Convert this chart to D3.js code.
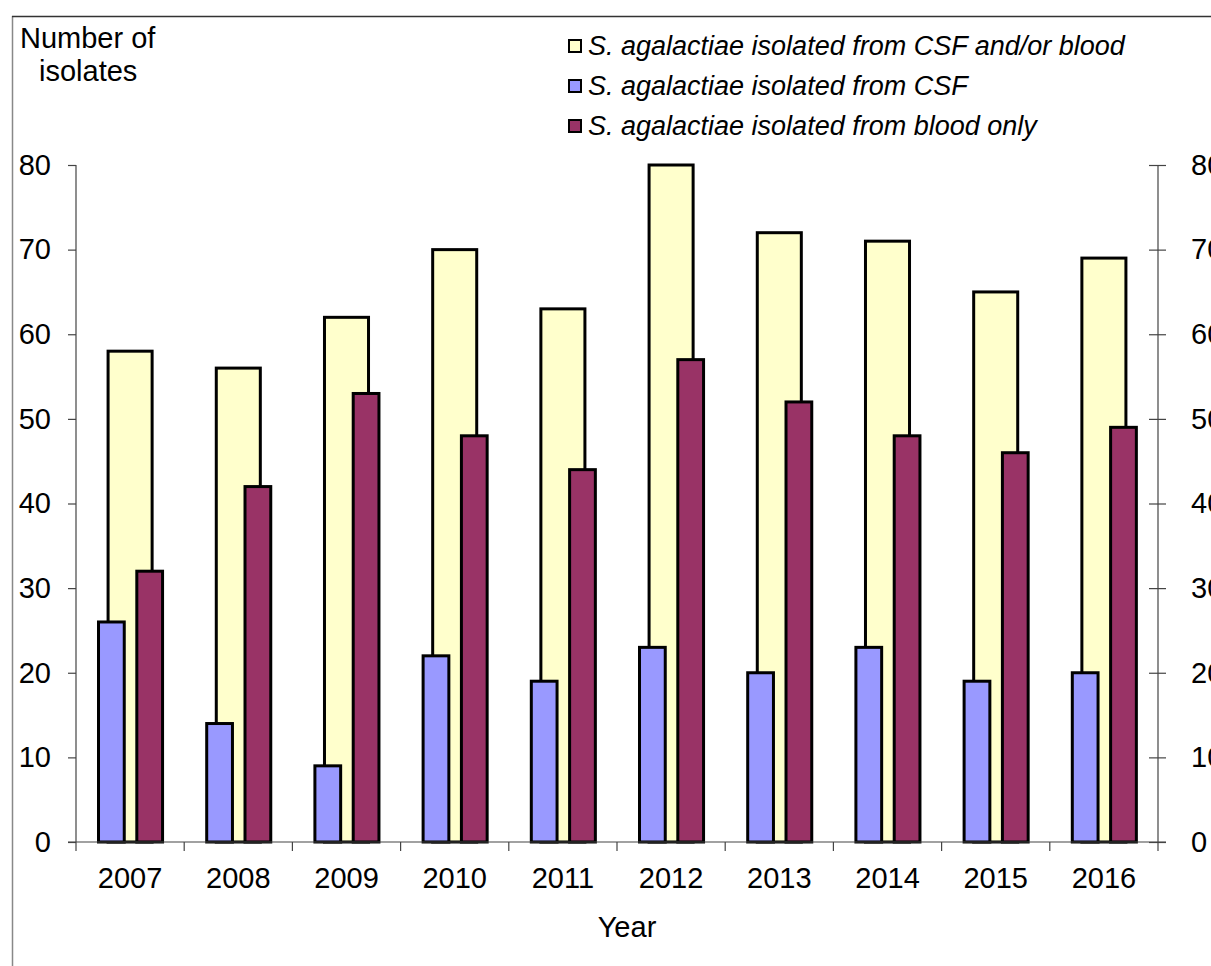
<!DOCTYPE html>
<html>
<head>
<meta charset="utf-8">
<script src="https://cdn.jsdelivr.net/npm/d3@7"></script>
<style>
  html, body { margin: 0; padding: 0; background: #fff; }
  svg { display: block; font-family: "Liberation Sans", Arial, sans-serif; }
</style>
</head>
<body>
<svg id="chart" width="1211" height="966"></svg>
<script>
// Invasive S. agalactiae isolates per year
const years = ["2007", "2008", "2009", "2010", "2011", "2012", "2013", "2014", "2015", "2016"];
const csfOrBlood = [58, 56, 62, 70, 63, 80, 72, 71, 65, 69];
const csf = [26, 14, 9, 22, 19, 23, 20, 23, 19, 20];
const bloodOnly = [32, 42, 53, 48, 44, 57, 52, 48, 46, 49];
const yTicks = [0, 10, 20, 30, 40, 50, 60, 70, 80];
const legendLabels = [
  "S. agalactiae isolated from CSF and/or blood",
  "S. agalactiae isolated from CSF",
  "S. agalactiae isolated from blood only"
];
const colors = ["#FFFFCC", "#9999FF", "#993366"];

const svg = d3.select("#chart");
const plot = { left: 76, right: 1158, top: 165, bottom: 842 };

const x = d3.scaleBand().domain(years).range([plot.left, plot.right]).padding(0);
const y = d3.scaleLinear().domain([0, 80]).range([plot.bottom, plot.top]);
const bw = x.bandwidth();

// outer chart frame
svg.append("line").attr("x1", 12.5).attr("x2", 12.5).attr("y1", 16).attr("y2", 966)
  .attr("stroke", "#888").attr("stroke-width", 1.5);
svg.append("line").attr("x1", 12).attr("x2", 1211).attr("y1", 16.5).attr("y2", 16.5)
  .attr("stroke", "#333").attr("stroke-width", 1.5);

// bars: total (wide, behind), CSF (left), blood only (right)
const barG = svg.append("g").attr("stroke", "#000").attr("stroke-width", 3);
const wideW = bw * 0.407;
barG.selectAll("rect.total").data(years).join("rect")
  .attr("class", "total")
  .attr("x", d => x(d) + bw / 2 - wideW / 2)
  .attr("width", wideW)
  .attr("y", (d, i) => y(csfOrBlood[i]))
  .attr("height", (d, i) => y(0) - y(csfOrBlood[i]))
  .attr("fill", colors[0]);

const narrowW = bw * 0.238;
barG.selectAll("rect.csf").data(years).join("rect")
  .attr("class", "csf")
  .attr("x", d => x(d) + bw / 2 - bw * 0.292)
  .attr("width", narrowW)
  .attr("y", (d, i) => y(csf[i]))
  .attr("height", (d, i) => y(0) - y(csf[i]))
  .attr("fill", colors[1]);

barG.selectAll("rect.blood").data(years).join("rect")
  .attr("class", "blood")
  .attr("x", d => x(d) + bw / 2 + bw * 0.062)
  .attr("width", narrowW)
  .attr("y", (d, i) => y(bloodOnly[i]))
  .attr("height", (d, i) => y(0) - y(bloodOnly[i]))
  .attr("fill", colors[2]);

// axes
const axisColor = "#444";
const fontSize = 29;

const leftAxis = svg.append("g").attr("transform", `translate(${plot.left},0)`)
  .call(d3.axisLeft(y).tickValues(yTicks).tickSize(8).tickPadding(17));
const rightAxis = svg.append("g").attr("transform", `translate(${plot.right},0)`)
  .call(d3.axisRight(y).tickValues(yTicks).tickSize(8).tickPadding(25));
rightAxis.selectAll(".tick line").attr("x1", -9);

const bottomAxis = svg.append("g").attr("transform", `translate(0,${plot.bottom})`)
  .call(d3.axisBottom(x).tickSize(0).tickPadding(25));
// category boundary ticks
svg.append("g").selectAll("line").data(d3.range(years.length + 1)).join("line")
  .attr("x1", i => plot.left + i * bw).attr("x2", i => plot.left + i * bw)
  .attr("y1", plot.bottom).attr("y2", plot.bottom + 9)
  .attr("stroke", axisColor).attr("stroke-width", 1.2);
// baseline spanning both axes' zero ticks
svg.append("line").attr("x1", plot.left - 8).attr("x2", plot.right + 8)
  .attr("y1", plot.bottom).attr("y2", plot.bottom)
  .attr("stroke", axisColor).attr("stroke-width", 1.2);

[leftAxis, rightAxis, bottomAxis].forEach(g => {
  g.select(".domain").attr("stroke", axisColor).attr("stroke-width", 1.2);
  g.selectAll(".tick line").attr("stroke", axisColor).attr("stroke-width", 1.2);
  g.selectAll(".tick text").attr("font-size", fontSize).attr("fill", "#000")
    .attr("font-family", "'Liberation Sans', Arial, sans-serif");
});
bottomAxis.select(".domain").remove();
rightAxis.select(".domain").attr("d", `M0,${plot.top}V${plot.bottom}`);
leftAxis.select(".domain").attr("d", `M0,${plot.top}V${plot.bottom}`);

// axis titles
svg.append("text").attr("x", 20).attr("y", 48).attr("font-size", fontSize).text("Number of");
svg.append("text").attr("x", 39).attr("y", 81).attr("font-size", fontSize).text("isolates");
svg.append("text").attr("x", (plot.left + plot.right) / 2 + 10).attr("y", 937)
  .attr("text-anchor", "middle").attr("font-size", fontSize).text("Year");

// legend
const legend = svg.append("g").attr("transform", "translate(569,40)");
legendLabels.forEach((label, i) => {
  const row = legend.append("g").attr("transform", `translate(0,${i * 40})`);
  row.append("rect").attr("x", 0).attr("y", 0).attr("width", 12).attr("height", 12)
    .attr("fill", colors[i]).attr("stroke", "#000").attr("stroke-width", 2);
  row.append("text").attr("x", 19).attr("y", 15).attr("font-size", 27)
    .attr("font-style", "italic").text(label);
});
</script>
</body>
</html>
